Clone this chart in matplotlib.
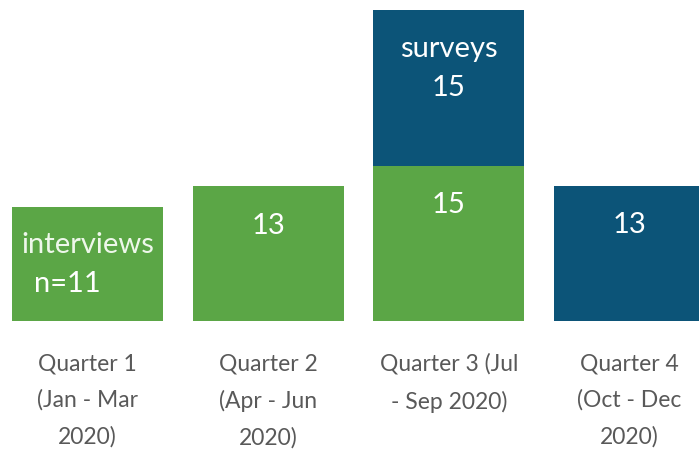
import numpy as np
import matplotlib.pyplot as plt

plt.rcParams['font.family'] = ['Lato', 'DejaVu Sans']

quarters = ['Quarter 1\n(Jan - Mar\n2020)', 'Quarter 2\n(Apr - Jun\n2020)',
            'Quarter 3 (Jul\n- Sep 2020)', 'Quarter 4\n(Oct - Dec\n2020)']
interviews = [11, 13, 15, 0]
surveys = [0, 0, 15, 13]

green = '#5ba646'
blue = '#0c5478'
grey = '#595959'

fig = plt.figure(figsize=(6.99, 4.58), dpi=100)
ax = fig.add_axes([0, 0.299, 1, 0.679])

x = np.arange(len(quarters))
ax.bar(x, interviews, width=0.835, color=green)
ax.bar(x, surveys, width=0.835, bottom=interviews, color=blue)

ax.set_xlim(-0.484, 3.385)
ax.set_ylim(0, 30)
ax.axis('off')

# in-bar labels
fs = 21
ax.text(0, 7.3, 'interviews', ha='center', va='center', color='#eef7ea', fontsize=fs)
ax.text(-0.11, 3.6, 'n=' + str(interviews[0]), ha='center', va='center', color='white', fontsize=fs)
ax.text(1, interviews[1] - 3.8, str(interviews[1]), ha='center', va='center', color='white', fontsize=fs)
ax.text(2, interviews[2] - 3.8, str(interviews[2]), ha='center', va='center', color='white', fontsize=fs)
ax.text(2, 26.2, 'surveys', ha='center', va='center', color='white', fontsize=fs)
ax.text(2, 22.5, str(surveys[2]), ha='center', va='center', color='white', fontsize=fs)
ax.text(3, surveys[3] - 3.7, str(surveys[3]), ha='center', va='center', color='white', fontsize=fs)

# category labels
for xi, lab in zip(x, quarters):
    ax.text(xi, -3.1, lab, ha='center', va='top', color=grey, fontsize=16.5,
            linespacing=1.87)

fig.savefig('out.png', dpi=100)
